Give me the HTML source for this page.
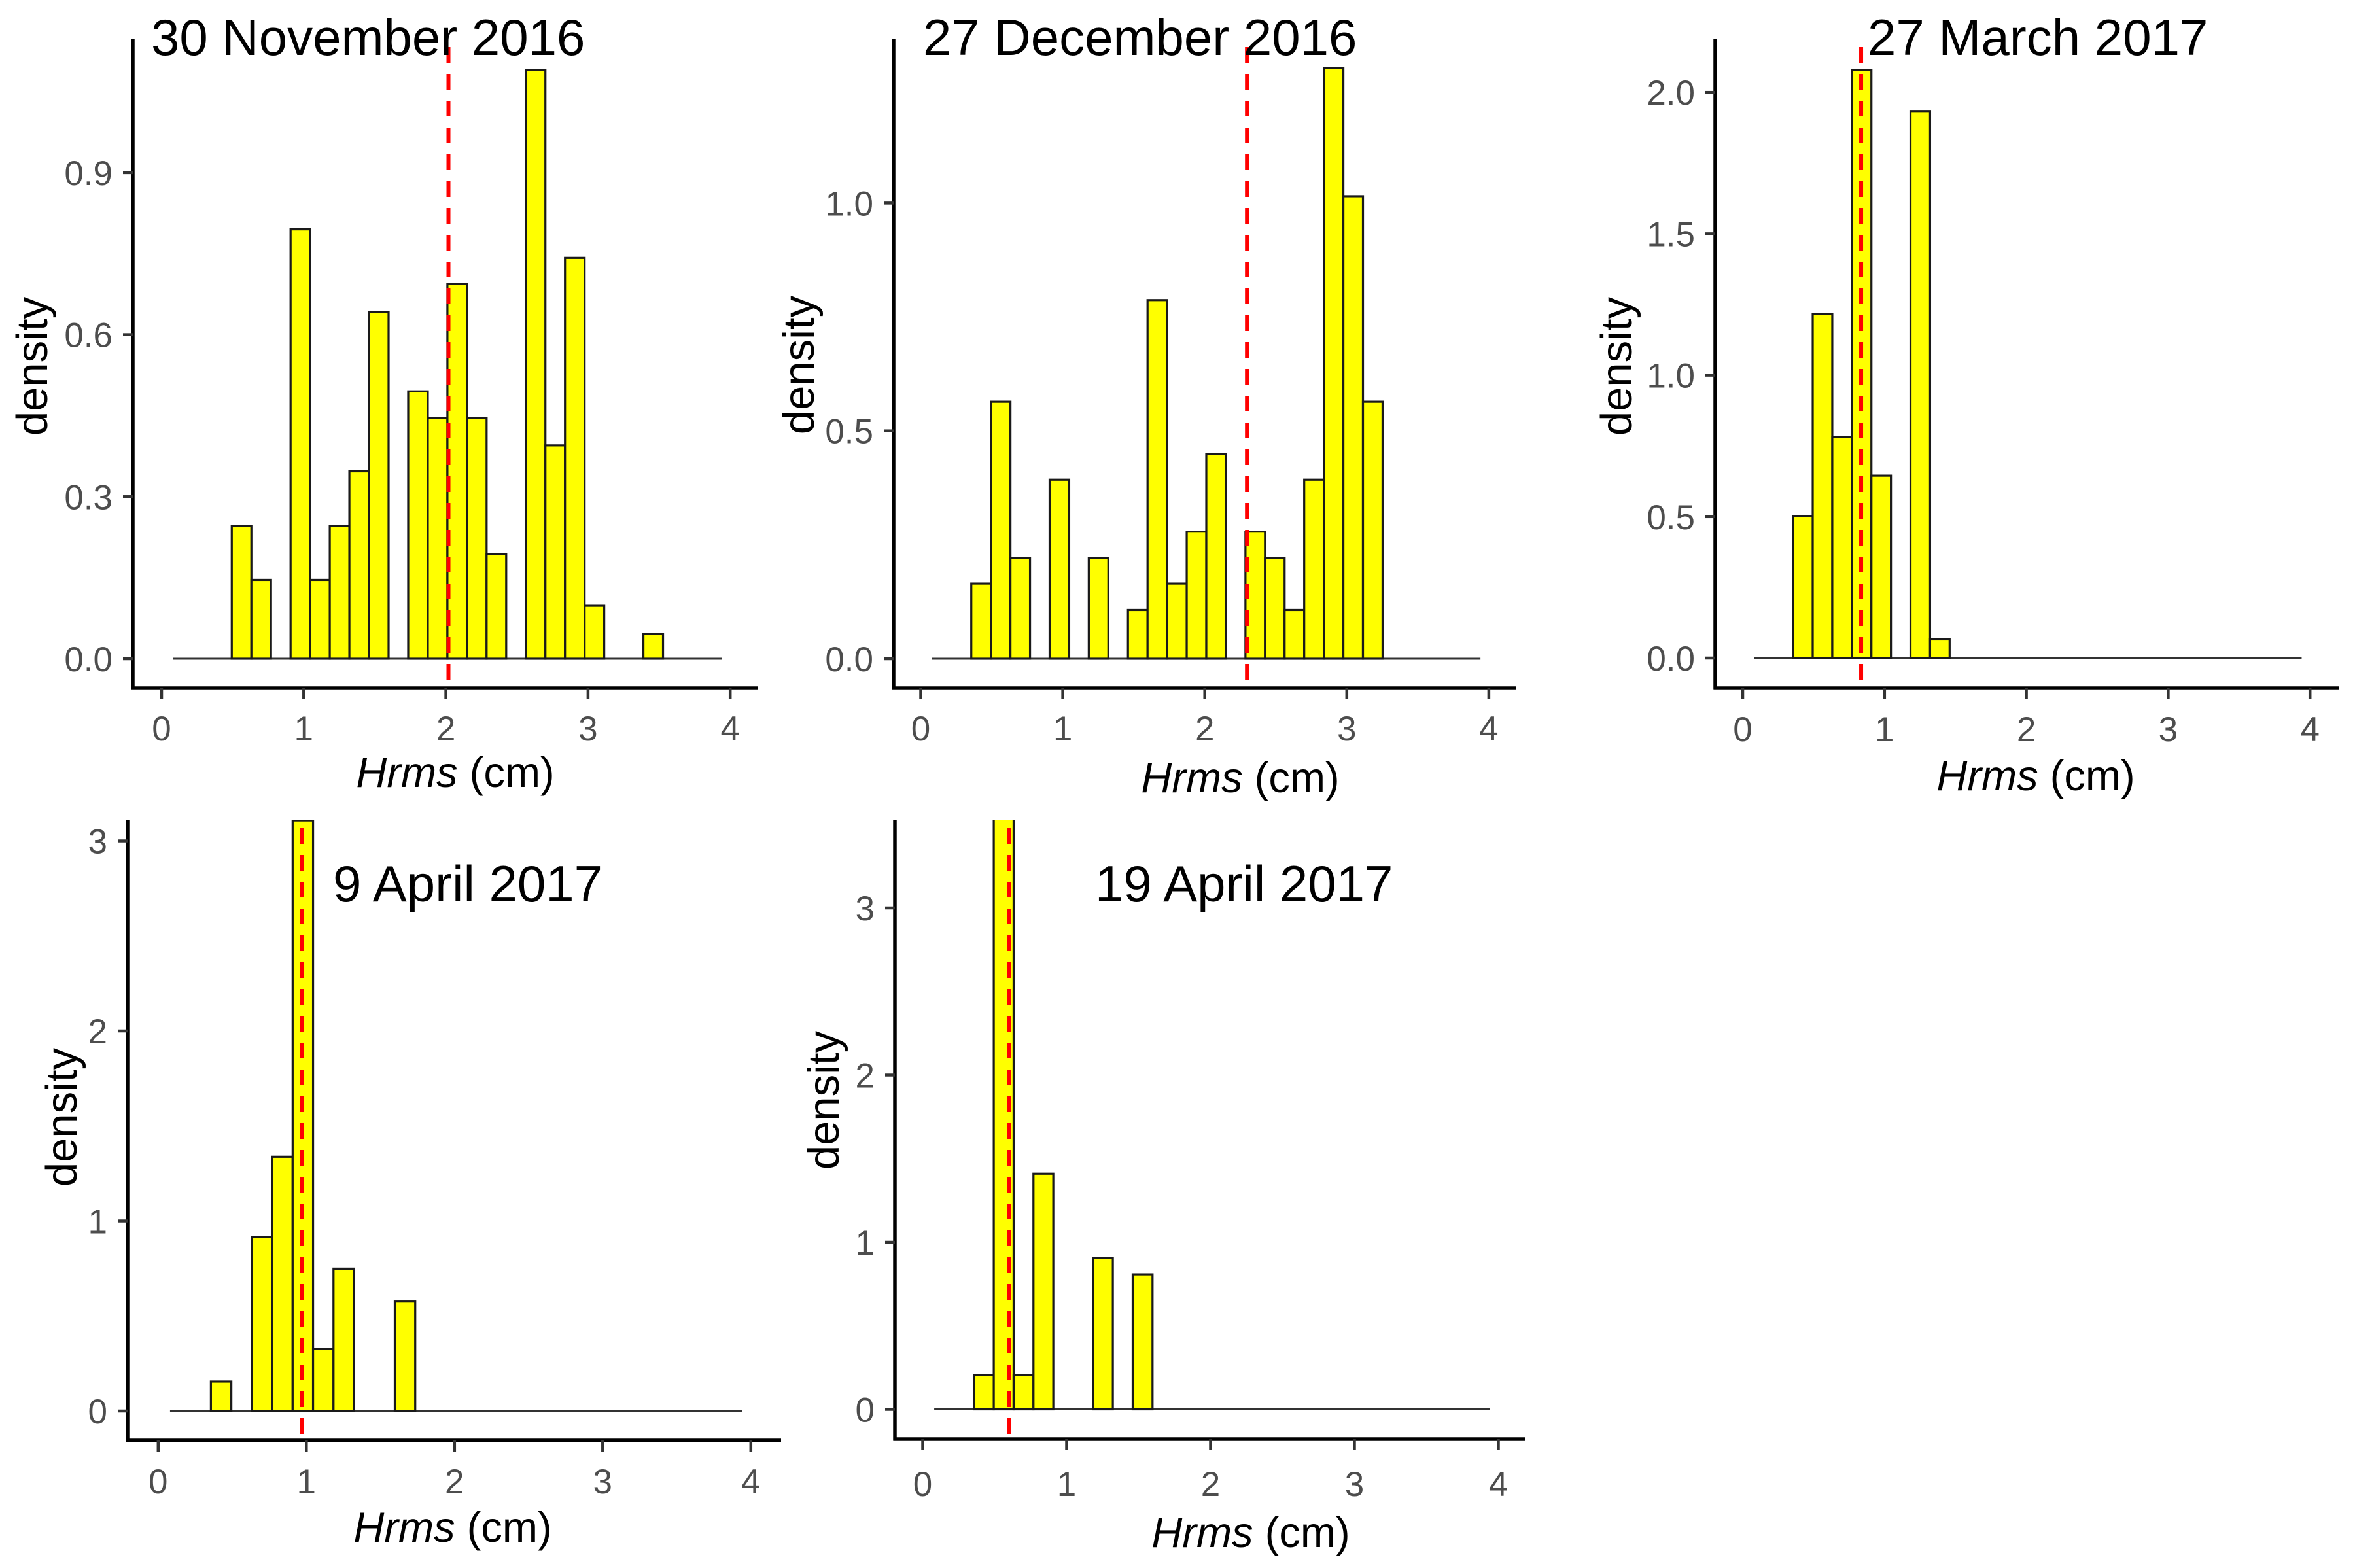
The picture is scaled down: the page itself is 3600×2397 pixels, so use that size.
<!DOCTYPE html>
<html><head><meta charset="utf-8"><style>
html,body{margin:0;padding:0;background:#fff;}
svg{display:block;font-family:"Liberation Sans",Arial,sans-serif;}
</style></head><body>
<svg id="fig" xmlns="http://www.w3.org/2000/svg" width="3600" height="2397" viewBox="0 0 3600 2397">
<rect width="3600" height="2397" fill="#fff"/>
</svg>
<script>
// ---- shared bin layout ----
const binStart = 0.08;
const binWidth = 0.1379;
const binCount = 28;
// ---- panel titles ----
const titles = ["30 November 2016","27 December 2016","27 March 2017","9 April 2017","19 April 2017"];
// ---- density per bin [binIndex, density] ----
const dens1 = [[3,.246],[4,.146],[6,.795],[7,.146],[8,.246],[9,.347],[10,.642],[12,.495],[13,.446],[14,.694],[15,.446],[16,.194],[18,1.09],[19,.395],[20,.742],[21,.098],[24,.046]];
const dens2 = [[2,.165],[3,.564],[4,.221],[6,.393],[8,.221],[10,.107],[11,.787],[12,.165],[13,.279],[14,.449],[16,.279],[17,.221],[18,.107],[19,.393],[20,1.296],[21,1.015],[22,.564]];
const dens3 = [[2,.501],[3,1.216],[4,.781],[5,2.08],[6,.645],[8,1.934],[9,.066]];
const dens4 = [[2,.155],[4,.917],[5,1.338],[6,3.108],[7,.326],[8,.749],[11,.576]];
const dens5 = [[2,.206],[3,4.0],[4,.206],[5,1.41],[8,.905],[10,.808]];
// ---- mean lines ----
const means = [2.018, 2.297, 0.835, 0.970, 0.602];
// ---- tick labels ----
const xTicks = [0,1,2,3,4];
const yTicks1 = [0,0.3,0.6,0.9];
const yTicks2 = [0,0.5,1.0];
const yTicks3 = [0,0.5,1.0,1.5,2.0];
const yTicks4 = [0,1,2,3];
const yTicks5 = [0,1,2,3];

const layout = [
 {ax:203,bot:1052,top:60,right:1159,x0:247,xu:217.3,y0:1007,yu:825.7,dec:1,tx:231,ty:84,tickY:1132,titleX:696,titleY:1203,densX:72,densY:560},
 {ax:1366,bot:1052,top:60,right:2317,x0:1407.5,xu:217.1,y0:1007,yu:696.6,dec:1,tx:1411,ty:84,tickY:1132,titleX:1896,titleY:1211,densX:1244,densY:558},
 {ax:2622,bot:1052,top:60,right:3575,x0:2664,xu:216.8,y0:1006,yu:432.4,dec:1,tx:2855,ty:84,tickY:1133,titleX:3112,titleY:1208,densX:2494,densY:560},
 {ax:195,bot:2202,top:1254,right:1194,x0:241.8,xu:226.5,y0:2157,yu:290.5,dec:0,tx:509,ty:1378,tickY:2283,titleX:692,titleY:2357,densX:117,densY:1708},
 {ax:1368,bot:2200,top:1254,right:2331,x0:1410.5,xu:220,y0:2154.5,yu:255.5,dec:0,tx:1674,ty:1378,tickY:2287,titleX:1912,titleY:2365,densX:1282,densY:1682}
];
const allDens = [dens1,dens2,dens3,dens4,dens5];
const allY = [yTicks1,yTicks2,yTicks3,yTicks4,yTicks5];

const NS = "http://www.w3.org/2000/svg";
const svg = document.getElementById("fig");
function mk(tag, attrs, parent){
  const e = document.createElementNS(NS, tag);
  for (const k in attrs) e.setAttribute(k, attrs[k]);
  (parent||svg).appendChild(e);
  return e;
}
layout.forEach((L, p) => {
  const g = mk("g", {});
  
  
  const xs = v => L.x0 + v * L.xu;
  const ys = v => L.y0 - v * L.yu;
  const cp = mk("clipPath", {id:"clip"+p}, g);
  mk("rect", {x:L.ax, y:L.top, width:L.right-L.ax, height:L.bot-L.top}, cp);
  const base = mk("line", {x1:xs(binStart), x2:xs(binStart+binCount*binWidth), y1:ys(0), y2:ys(0), stroke:"#333", "stroke-width":3}, g);
  
  
  const bars = mk("g", {"clip-path":"url(#clip"+p+")"}, g);
  allDens[p].forEach(d => {
    const x1 = xs(binStart + d[0]*binWidth), x2 = xs(binStart + (d[0]+1)*binWidth);
    const r = mk("rect", {x:x1, y:ys(d[1]), width:x2-x1, height:ys(0)-ys(d[1]), fill:"#ffff00", stroke:"#1a1a1a", "stroke-width":3.2}, bars);
    
    
  });
  const m = mk("line", {x1:xs(means[p]), x2:xs(means[p]), y1:L.top, y2:L.bot, stroke:"#ff0000", "stroke-width":6, "stroke-dasharray":"24 17", "stroke-dashoffset":"-12"}, g);
  
  
  const ya = mk("line", {x1:L.ax, x2:L.ax, y1:L.top, y2:L.bot+2.5, stroke:"#000", "stroke-width":5.5}, g);
  
  
  const xa = mk("line", {x1:L.ax-2.5, x2:L.right, y1:L.bot, y2:L.bot, stroke:"#000", "stroke-width":5.5}, g);
  
  
  xTicks.forEach(t => {
    mk("line", {x1:xs(t), x2:xs(t), y1:L.bot, y2:L.bot+17, stroke:"#333", "stroke-width":4.5}, g);
    const tl = mk("text", {x:xs(t), y:L.tickY, "text-anchor":"middle", "font-size":53, fill:"#4d4d4d"}, g);
    tl.textContent = t;
    
    
  });
  allY[p].forEach(t => {
    mk("line", {x1:L.ax-15, x2:L.ax, y1:ys(t), y2:ys(t), stroke:"#333", "stroke-width":4.5}, g);
    const tl = mk("text", {x:L.ax-31, y:ys(t)+19, "text-anchor":"end", "font-size":53, fill:"#4d4d4d"}, g);
    tl.textContent = t.toFixed(L.dec);
    
    
  });
  const xt = mk("text", {x:L.titleX, y:L.titleY, "text-anchor":"middle", "font-size":65, fill:"#000"}, g);
  xt.innerHTML = '<tspan font-style="italic">Hrms</tspan> (cm)';
  
  
  const yt = mk("text", {x:0, y:0, "text-anchor":"middle", "font-size":67, fill:"#000", transform:"translate("+L.densX+","+L.densY+") rotate(-90)"}, g);
  yt.textContent = "density";
  
  
  const tt = mk("text", {x:L.tx, y:L.ty, "font-size":78, fill:"#000"}, g);
  tt.textContent = titles[p];
  
  
});
</script>
</body></html>
